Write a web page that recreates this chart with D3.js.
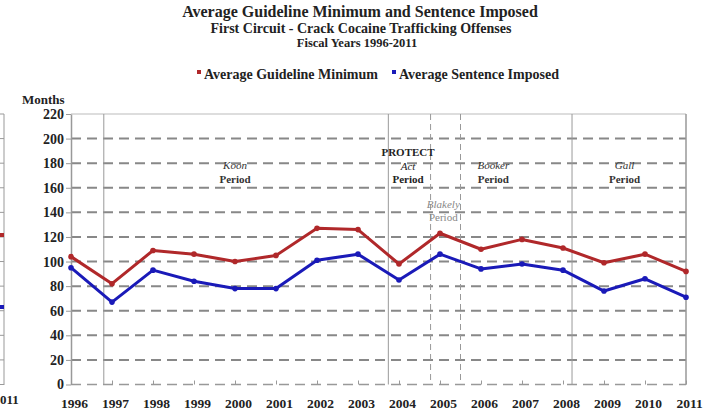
<!DOCTYPE html>
<html>
<head>
<meta charset="utf-8">
<script src="https://cdn.jsdelivr.net/npm/d3@7"></script>
<style>
  body { margin: 0; background: #fff; }
  svg text { font-family: "Liberation Serif", "Times New Roman", Times, "DejaVu Serif", "Noto Serif", serif !important; }
</style>
</head>
<body>
<div id="chart"></div>
<script>
// Data
var years = [1996, 1997, 1998, 1999, 2000, 2001, 2002, 2003, 2004, 2005, 2006, 2007, 2008, 2009, 2010, 2011];
var guidelineMin = [104, 82, 109, 106, 100, 105, 127, 126, 98, 123, 110, 118, 111, 99, 106, 92];
var sentenceImposed = [95, 67, 93, 84, 78, 78, 101, 106, 85, 106, 94, 98, 93, 76, 86, 71];
var yTicks = [0, 20, 40, 60, 80, 100, 120, 140, 160, 180, 200, 220];

// period boundaries (fractional fiscal year positions)
var boundaries = [
  { at: 1996.8, dashed: false },
  { at: 2003.74, dashed: false },
  { at: 2004.77, dashed: true },
  { at: 2005.5, dashed: true },
  { at: 2008.22, dashed: false }
];
var periodLabels = [
  { x: 2000.0, lines: [["Koon", "italic", "normal"], ["Period", "normal", "bold"]], color: "#333" },
  { x: 2004.22, lines: [["PROTECT", "normal", "bold"], ["Act", "italic", "normal"], ["Period", "normal", "bold"]], color: "#222", top: true },
  { x: 2006.3, lines: [["Booker", "italic", "normal"], ["Period", "normal", "bold"]], color: "#333" },
  { x: 2009.5, lines: [["Gall", "italic", "normal"], ["Period", "normal", "bold"]], color: "#333" }
];

var width = 710, height = 412;
var svg = d3.select("#chart").append("svg")
    .attr("width", width)
    .attr("height", height);

var x = d3.scaleLinear().domain([1996, 2011]).range([71, 686]);
var y = d3.scaleLinear().domain([0, 220]).range([384.5, 114]);

// Titles
svg.append("text").attr("x", 360).attr("y", 17).attr("text-anchor", "middle")
    .style("font-size", "16px").style("font-weight", "bold").attr("fill", "#222")
    .text("Average Guideline Minimum and Sentence Imposed");
svg.append("text").attr("x", 361).attr("y", 33).attr("text-anchor", "middle")
    .style("font-size", "14px").style("font-weight", "bold").attr("fill", "#222")
    .text("First Circuit - Crack Cocaine Trafficking Offenses");
svg.append("text").attr("x", 357).attr("y", 47).attr("text-anchor", "middle")
    .style("font-size", "12.5px").style("font-weight", "bold").attr("fill", "#222")
    .text("Fiscal Years 1996-2011");

// Legend
var legend = [
  { label: "Average Guideline Minimum", color: "#b0282a", x: 199 },
  { label: "Average Sentence Imposed", color: "#1a1ab8", x: 394 }
];
legend.forEach(function(d) {
  svg.append("rect").attr("x", d.x - 2).attr("y", 70).attr("width", 4).attr("height", 4).attr("fill", d.color);
  svg.append("text").attr("x", d.x + 5).attr("y", 79)
      .style("font-size", "14px").style("font-weight", "bold").attr("fill", "#222")
      .text(d.label);
});

// Neighbouring chart edge at the far left
svg.append("line").attr("x1", 4).attr("x2", 4).attr("y1", 114).attr("y2", 385)
    .attr("stroke", "#999").attr("stroke-width", 1);
yTicks.forEach(function(t) {
  svg.append("line").attr("x1", 0).attr("x2", 4).attr("y1", y(t)).attr("y2", y(t)).attr("stroke", "#999");
});
svg.append("rect").attr("x", 0).attr("y", 233).attr("width", 4).attr("height", 4).attr("fill", "#b0282a");
svg.append("rect").attr("x", 0).attr("y", 305).attr("width", 4).attr("height", 4).attr("fill", "#1a1ab8");
svg.append("text").attr("x", 0).attr("y", 404)
    .style("font-size", "13px").style("font-weight", "bold").attr("fill", "#222").text("011");

// Gridlines
svg.append("g").selectAll("line")
    .data(yTicks.filter(function(t) { return t > 0; }))
    .enter().append("line")
    .attr("x1", x(1996)).attr("x2", x(2011))
    .attr("y1", function(d) { return y(d); })
    .attr("y2", function(d) { return y(d); })
    .attr("stroke", function(d) { return d === 220 ? "#bbb" : "#888"; })
    .attr("stroke-width", function(d) { return d === 220 ? 1 : 2; })
    .attr("stroke-dasharray", function(d) { return d === 220 ? null : "10,6"; });
svg.append("line")
    .attr("x1", x(1996)).attr("x2", x(2011)).attr("y1", y(0)).attr("y2", y(0))
    .attr("stroke", "#999").attr("stroke-width", 1.5).attr("stroke-dasharray", "10,6");

// Period boundaries
svg.append("g").selectAll("line")
    .data(boundaries)
    .enter().append("line")
    .attr("x1", function(d) { return x(d.at); })
    .attr("x2", function(d) { return x(d.at); })
    .attr("y1", y(220)).attr("y2", y(0))
    .attr("stroke", "#999")
    .attr("stroke-width", 1)
    .attr("stroke-dasharray", function(d) { return d.dashed ? "6,4" : null; });

// Axes
var yAxis = d3.axisLeft(y).tickValues(yTicks).tickSize(5).tickSizeOuter(0);
var gy = svg.append("g").attr("transform", "translate(" + x(1996) + ",0)").call(yAxis);
gy.select(".domain").attr("stroke", "#999").attr("stroke-width", 1.5);
gy.selectAll(".tick line").attr("stroke", "#999");
gy.selectAll("text").attr("x", -7).attr("fill", "#222")
    .style("font-size", "14px").style("font-weight", "bold");

var xAxis = d3.axisBottom(x).tickValues(years).tickFormat(d3.format("d")).tickSize(-4).tickSizeOuter(0);
var gx = svg.append("g").attr("transform", "translate(0," + y(0) + ")").call(xAxis);
gx.select(".domain").remove();
gx.selectAll(".tick line").attr("stroke", "#999");
gx.selectAll("text").attr("y", 14).attr("dx", 3).attr("fill", "#222")
    .style("font-size", "13.5px").style("font-weight", "bold");

// right border
svg.append("line").attr("x1", x(2011)).attr("x2", x(2011)).attr("y1", y(220)).attr("y2", y(0))
    .attr("stroke", "#999").attr("stroke-width", 1.5);

svg.append("text").attr("x", 22).attr("y", 104)
    .style("font-size", "13px").style("font-weight", "bold").attr("fill", "#222").text("Months");

// Period labels
periodLabels.forEach(function(p) {
  var y0 = p.top ? 156 : 169;
  p.lines.forEach(function(l, i) {
    svg.append("text").attr("x", x(p.x)).attr("y", y0 + i * 13.5)
        .attr("text-anchor", "middle").attr("fill", p.color)
        .style("font-size", "11px").style("font-style", l[1]).style("font-weight", l[2])
        .text(l[0]);
  });
});
svg.append("text").attr("x", x(2005.08)).attr("y", 208).attr("text-anchor", "middle")
    .attr("fill", "#888").style("font-size", "11px").style("font-style", "italic").text("Blakely");
svg.append("text").attr("x", x(2005.08)).attr("y", 221).attr("text-anchor", "middle")
    .attr("fill", "#888").style("font-size", "11px").text("Period");

// Lines
var series = [
  { values: guidelineMin, color: "#b0282a" },
  { values: sentenceImposed, color: "#1a1ab8" }
];
var line = d3.line()
    .x(function(d) { return x(d.year); })
    .y(function(d) { return y(d.value); });

series.forEach(function(s) {
  var pts = years.map(function(yr, i) { return { year: yr, value: s.values[i] }; });
  svg.append("path").datum(pts)
      .attr("d", line)
      .attr("fill", "none")
      .attr("stroke", s.color)
      .attr("stroke-width", 3)
      .attr("stroke-linejoin", "round");
  svg.append("g").selectAll("circle")
      .data(pts)
      .enter().append("circle")
      .attr("cx", function(d) { return x(d.year); })
      .attr("cy", function(d) { return y(d.value); })
      .attr("r", 2.8)
      .attr("fill", s.color);
});
</script>
</body>
</html>
